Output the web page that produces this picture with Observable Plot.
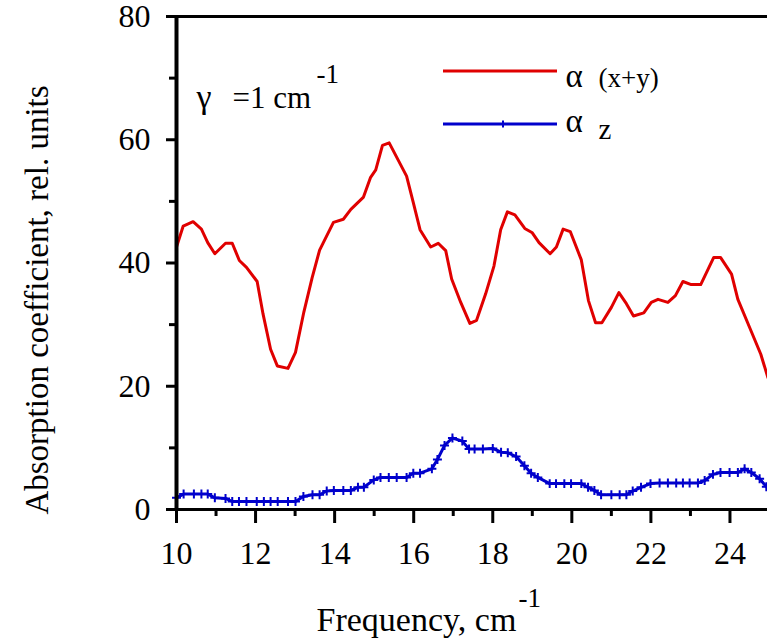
<!DOCTYPE html>
<html><head><meta charset="utf-8">
<script src="https://cdn.jsdelivr.net/npm/d3@7"></script>
<script src="https://cdn.jsdelivr.net/npm/@observablehq/plot@0.6"></script>
<style>html,body{margin:0;padding:0;overflow:hidden;background:#fff}</style>
</head><body><div id="chart"></div>
<script>
// series 1: alpha (x+y)
const redX = [10.0,10.17,10.42,10.63,10.79,10.97,11.24,11.41,11.59,11.77,12.04,12.19,12.38,12.55,12.82,13.01,13.22,13.43,13.62,13.97,14.22,14.41,14.73,14.91,15.04,15.21,15.38,15.82,15.99,16.16,16.43,16.62,16.81,16.96,17.19,17.42,17.59,17.82,18.03,18.20,18.37,18.56,18.81,19.00,19.17,19.45,19.61,19.78,19.96,20.24,20.42,20.60,20.76,21.0,21.19,21.38,21.56,21.82,22.01,22.18,22.43,22.62,22.81,23.02,23.26,23.59,23.76,24.04,24.20,24.50,24.78,24.96];
const redY = [42.6,46.0,46.7,45.5,43.3,41.5,43.2,43.2,40.4,39.3,37.0,31.7,26.0,23.3,22.9,25.5,32.0,37.6,42.1,46.6,47.1,48.7,50.7,53.9,55.1,59.1,59.5,54.1,49.8,45.4,42.6,43.2,42.0,37.4,33.6,30.2,30.7,35.0,39.5,45.4,48.3,47.8,45.6,44.9,43.3,41.5,42.6,45.5,45.1,40.5,33.9,30.3,30.3,32.8,35.2,33.4,31.4,31.9,33.6,34.1,33.6,34.7,37.0,36.5,36.5,40.9,40.9,38.2,34.1,29.5,25.2,21.4];
// series 2: alpha z
const blueX = [10.0,10.18,10.44,10.63,10.79,10.97,11.24,11.41,11.58,11.77,12.03,12.21,12.38,12.56,12.82,13.01,13.21,13.44,13.62,13.80,13.98,14.22,14.41,14.59,14.74,14.99,15.16,15.37,15.57,15.82,15.99,16.16,16.46,16.60,16.78,16.98,17.23,17.40,17.54,17.75,18.0,18.21,18.38,18.59,18.80,18.97,19.14,19.44,19.60,19.81,19.98,20.24,20.41,20.57,20.74,21.0,21.21,21.38,21.54,21.75,21.99,22.22,22.43,22.64,22.81,22.98,23.19,23.36,23.57,23.76,23.99,24.20,24.37,24.54,24.75,24.92];
const blueY = [1.9,2.5,2.5,2.5,2.5,1.9,1.8,1.3,1.3,1.3,1.3,1.3,1.3,1.3,1.3,1.3,2.1,2.4,2.4,3.0,3.1,3.1,3.1,3.6,3.6,4.8,5.2,5.2,5.2,5.2,5.9,5.9,6.6,8.1,10.4,11.6,11.1,9.8,9.8,9.8,9.9,9.3,9.2,8.6,7.1,5.9,5.2,4.2,4.2,4.2,4.2,4.2,3.6,3.1,2.4,2.4,2.4,2.4,3.0,3.6,4.2,4.3,4.3,4.3,4.3,4.3,4.3,4.7,5.7,6.0,6.0,6.0,6.6,6.0,5.0,3.7];

const xMajorTicks = [10,12,14,16,18,20,22,24];
const xMinorTicks = [11,13,15,17,19,21,23,25];
const yMajorTicks = [0,20,40,60,80];
const yMinorTicks = [10,30,50,70];
const xTitle = "Frequency, cm";
const yTitle = "Absorption coefficient, rel. units";
const unitSup = "-1";
const gammaText = ["\u03B3", "=1 cm"];
const legendSymbol = "\u03B1";
const legendSuffixes = ["(x+y)", "z"];

const RED = "#e00000", BLUE = "#0000cc";
const red = redX.map((x, i) => ({x, y: redY[i]}));
const blue = blueX.map((x, i) => ({x, y: blueY[i]}));
const FONT = "Liberation Serif";
const txt = (s, o) => Plot.text([s], {text: d => d, textAnchor: "start", lineAnchor: "bottom", fontFamily: FONT, ...o});

const plot = Plot.plot({
  width: 769, height: 641,
  marginLeft: 176, marginRight: 0, marginTop: 16, marginBottom: 132,
  style: {fontSize: "32px", background: "#fff", color: "#000", maxWidth: "none"},
  x: {domain: [10, 25]},
  y: {domain: [0, 80]},
  marks: [
    Plot.line(red, {x: "x", y: "y", stroke: RED, strokeWidth: 3}),
    Plot.line(blue, {x: "x", y: "y", stroke: BLUE, strokeWidth: 3}),
    Plot.dot(blue, {x: "x", y: "y", symbol: "plus", r: 3, stroke: BLUE, strokeWidth: 2}),
    Plot.ruleY([80], {strokeWidth: 3}),
    Plot.ruleY([0], {strokeWidth: 3}),
    Plot.ruleX([10], {strokeWidth: 4}),
    Plot.axisX(xMajorTicks, {tickSize: 14, tickPadding: 18, strokeWidth: 3, label: null, fontFamily: FONT}),
    Plot.ruleX(xMinorTicks, {y1: 0, y2: 0, insetBottom: -7, strokeWidth: 3}),
    Plot.axisY(yMajorTicks, {tickSize: 10, tickPadding: 16, strokeWidth: 3, label: null, fontFamily: FONT}),
    Plot.ruleY(yMinorTicks, {x1: 10, x2: 10, insetLeft: -7, strokeWidth: 3}),
    txt(xTitle, {frameAnchor: "bottom-left", dx: 140, dy: 121, fontSize: 34}),
    txt(unitSup, {frameAnchor: "bottom-left", dx: 342, dy: 97, fontSize: 27}),
    txt(yTitle, {frameAnchor: "left", rotate: -90, dx: -129, dy: 37, textAnchor: "middle", fontSize: 33}),
    txt(gammaText[0], {frameAnchor: "top-left", dx: 20, dy: 91, fontSize: 34}),
    txt(gammaText[1], {frameAnchor: "top-left", dx: 56, dy: 91, fontSize: 31}),
    txt(unitSup, {frameAnchor: "top-left", dx: 140, dy: 66, fontSize: 27}),
    txt(legendSymbol, {frameAnchor: "top-left", dx: 389, dy: 70, fontSize: 33}),
    txt(legendSuffixes[0], {frameAnchor: "top-left", dx: 422, dy: 70, fontSize: 27}),
    txt(legendSymbol, {frameAnchor: "top-left", dx: 389, dy: 115, fontSize: 33}),
    txt(legendSuffixes[1], {frameAnchor: "top-left", dx: 422, dy: 122, fontSize: 29})
  ]
});
document.getElementById("chart").appendChild(plot);

// legend sample lines
const svg = d3.select(plot);
[{color: RED, y: 71, marker: false}, {color: BLUE, y: 124, marker: true}].forEach(r => {
  const g = svg.append("g");
  g.append("line").attr("x1", 443).attr("x2", 557).attr("y1", r.y).attr("y2", r.y)
    .attr("stroke", r.color).attr("stroke-width", 3);
  if (r.marker) {
    g.append("path").attr("d", `M500,${r.y}L506,${r.y}M503,${r.y-3.5}L503,${r.y+3.5}`)
      .attr("stroke", r.color).attr("stroke-width", 2).attr("fill", "none");
  }
});
</script>
</body></html>
